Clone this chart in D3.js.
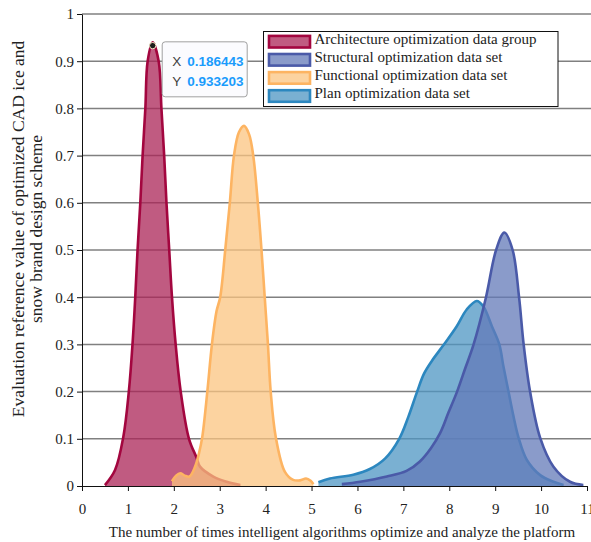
<!DOCTYPE html>
<html>
    <head>
        <meta charset="utf-8">
        <title>Optimization density chart</title>
        <script src="https://d3js.org/d3.v7.min.js"></script>
        <style>
            body{
                margin: 0;
                background: #ffffff;
            }
            .serif{
                font-family: "Liberation Serif", "Times New Roman", serif;
                fill: #222222;
            }
            .grid line{
                stroke: #808080;
                stroke-width: 1.5px;
            }
            .axis path, .axis line{
                stroke: #111111;
            }
            .axis text{
                font-family: "Liberation Serif", "Times New Roman", serif;
                font-size: 15px;
                fill: #222222;
            }
        </style>
    </head>
    <body>
        <svg width="591" height="542"></svg>
    </body>

    <script type="text/javascript">

        // values (x, density)
        var archX = [0.50, 0.72, 0.90, 1.02, 1.10, 1.16, 1.21, 1.27, 1.32, 1.38, 1.43, 1.54, 1.67, 1.73, 1.79, 1.84, 1.90, 1.96, 2.04, 2.15, 2.33, 2.50, 2.57, 2.86, 3.15, 3.45];
        var archY = [0.002, 0.034, 0.104, 0.20, 0.30, 0.40, 0.50, 0.60, 0.70, 0.80, 0.90, 0.94, 0.90, 0.80, 0.70, 0.60, 0.50, 0.40, 0.30, 0.20, 0.10, 0.059, 0.041, 0.020, 0.009, 0.002];

        var funcX = [1.96, 2.05, 2.14, 2.24, 2.34, 2.46, 2.55, 2.62, 2.73, 2.83, 2.93, 3.01, 3.12, 3.22, 3.31, 3.42, 3.53, 3.64, 3.73, 3.83, 3.91, 3.98, 4.05, 4.11, 4.22, 4.42, 4.60, 4.75, 4.88, 4.98, 5.04];
        var funcY = [0.010, 0.022, 0.027, 0.022, 0.020, 0.040, 0.070, 0.104, 0.20, 0.30, 0.37, 0.40, 0.50, 0.60, 0.70, 0.75, 0.763, 0.745, 0.70, 0.60, 0.50, 0.40, 0.30, 0.20, 0.104, 0.030, 0.013, 0.012, 0.016, 0.011, 0.004];

        var structX = [5.66, 6.06, 6.64, 7.07, 7.36, 7.60, 7.80, 7.98, 8.17, 8.35, 8.53, 8.80, 9.02, 9.20, 9.38, 9.52, 9.62, 9.76, 9.98, 10.27, 10.63, 10.92];
        var structY = [0.004, 0.009, 0.020, 0.032, 0.052, 0.080, 0.112, 0.155, 0.20, 0.25, 0.30, 0.40, 0.50, 0.537, 0.50, 0.40, 0.30, 0.20, 0.102, 0.041, 0.009, 0.002];

        var planX = [5.15, 5.40, 5.91, 6.27, 6.60, 6.91, 7.11, 7.30, 7.45, 7.62, 7.87, 8.16, 8.38, 8.60, 8.74, 8.93, 9.09, 9.18, 9.29, 9.40, 9.51, 9.69, 9.98, 10.27, 10.49];
        var planY = [0.008, 0.016, 0.024, 0.036, 0.058, 0.10, 0.147, 0.20, 0.238, 0.265, 0.298, 0.338, 0.374, 0.392, 0.381, 0.338, 0.30, 0.253, 0.20, 0.147, 0.102, 0.055, 0.023, 0.009, 0.002];

        var seriesNames = ["Architecture optimization data group", "Structural optimization data set", "Functional optimization data set", "Plan optimization data set"];
        var xTicks = [0, 1, 2, 3, 4, 5, 6, 7, 8, 9, 10, 11];
        var yTicks = [0, 0.1, 0.2, 0.3, 0.4, 0.5, 0.6, 0.7, 0.8, 0.9, 1];

        var tipX = 1.54, tipY = 0.933;
        var tipLabels = ["0.186443", "0.933203"];

        var series = [
            {name: seriesNames[0], xs: archX, ys: archY, fill: "#ab2457", stroke: "#a3063f", order: 0},
            {name: seriesNames[1], xs: structX, ys: structY, fill: "#637ab8", stroke: "#4a5aa8", order: 3},
            {name: seriesNames[2], xs: funcX, ys: funcY, fill: "#fbc480", stroke: "#fdb462", order: 1},
            {name: seriesNames[3], xs: planX, ys: planY, fill: "#4e96c3", stroke: "#2c87bf", order: 2}
        ];

        var svg = d3.select("svg");

        var x = d3.scaleLinear().domain([0, 11]).range([82, 587]);
        var y = d3.scaleLinear().domain([0, 1]).range([486, 14]);

        // horizontal grid
        svg.append("g")
            .attr("class", "grid")
            .selectAll("line")
            .data(yTicks.slice(1))
            .enter()
            .append("line")
            .attr("x1", x(0))
            .attr("x2", 591)
            .attr("y1", function (d) {return y(d);})
            .attr("y2", function (d) {return y(d);});

        var area = d3.area()
            .x(function (d) {return x(d[0]);})
            .y0(y(0))
            .y1(function (d) {return y(d[1]);})
            .curve(d3.curveCatmullRom.alpha(0.5));

        var line = d3.line()
            .x(function (d) {return x(d[0]);})
            .y(function (d) {return y(d[1]);})
            .curve(d3.curveCatmullRom.alpha(0.5));

        var drawn = series.slice().sort(function (a, b) {return a.order - b.order;});

        drawn.forEach(function (s) {
            var pts = s.xs.map(function (v, i) {return [v, s.ys[i]];});
            var g = svg.append("g");
            g.append("path")
                .attr("d", area(pts))
                .attr("fill", s.fill)
                .attr("fill-opacity", 0.75);
            g.append("path")
                .attr("d", line(pts))
                .attr("fill", "none")
                .attr("stroke", s.stroke)
                .attr("stroke-width", 2.6)
                .attr("stroke-linejoin", "round");
        });

        // axes
        svg.append("g")
            .attr("class", "axis")
            .attr("transform", "translate(0," + y(0) + ")")
            .call(d3.axisBottom(x).tickValues(xTicks).tickSize(5).tickPadding(12).tickSizeOuter(0)
                .tickFormat(function (d) {return String(d);}));

        svg.append("g")
            .attr("class", "axis")
            .attr("transform", "translate(" + x(0) + ",0)")
            .call(d3.axisLeft(y).tickValues(yTicks).tickSize(5).tickPadding(3).tickSizeOuter(0)
                .tickFormat(function (d) {return String(+d.toFixed(1));}));

        // axis titles
        svg.append("text")
            .attr("class", "serif")
            .attr("x", 342)
            .attr("y", 537)
            .attr("text-anchor", "middle")
            .style("font-size", "15px")
            .text("The number of times intelligent algorithms optimize and analyze the platform");

        var yTitle = ["Evaluation reference value of optimized CAD ice and", "snow brand design scheme"];
        yTitle.forEach(function (t, i) {
            svg.append("text")
                .attr("class", "serif")
                .attr("transform", "translate(" + (24 + i * 18) + ",229) rotate(-90)")
                .attr("text-anchor", "middle")
                .style("font-size", "17.5px")
                .text(t);
        });

        // legend
        var legend = svg.append("g").attr("transform", "translate(263.5,31.5)");
        legend.append("rect")
            .attr("width", 294.5)
            .attr("height", 75)
            .attr("fill", "#ffffff")
            .attr("stroke", "#111111")
            .attr("stroke-width", 1);

        var rows = legend.selectAll(".row")
            .data(series)
            .enter()
            .append("g")
            .attr("class", "row")
            .attr("transform", function (d, i) {return "translate(0," + (10.2 + i * 18.1) + ")";});

        rows.append("rect")
            .attr("x", 5.5)
            .attr("y", -5.8)
            .attr("width", 41)
            .attr("height", 11.6)
            .attr("fill", function (d) {return d.fill;})
            .attr("fill-opacity", 0.75)
            .attr("stroke", function (d) {return d.stroke;})
            .attr("stroke-width", 2.6);

        rows.append("text")
            .attr("class", "serif")
            .attr("x", 51)
            .attr("y", 1.8)
            .style("font-size", "15px")
            .text(function (d) {return d.name;});

        // data tip on the architecture peak
        var px = x(tipX), py = y(tipY);
        var tip = svg.append("g").attr("transform", "translate(" + (px + 9.5) + "," + (py - 3.8) + ")");
        tip.append("rect")
            .attr("width", 85)
            .attr("height", 55)
            .attr("rx", 3)
            .attr("fill", "#fbfbfe")
            .attr("stroke", "#a0a0a0")
            .attr("stroke-width", 1);

        ["X", "Y"].forEach(function (k, i) {
            tip.append("text")
                .attr("x", 10)
                .attr("y", 24.5 + i * 19.5)
                .style("font-family", "'Liberation Sans', Arial, sans-serif")
                .style("font-size", "13.5px")
                .attr("fill", "#404040")
                .text(k);
            tip.append("text")
                .attr("x", 25)
                .attr("y", 24.5 + i * 19.5)
                .style("font-family", "'Liberation Sans', Arial, sans-serif")
                .style("font-size", "13.5px")
                .style("font-weight", "bold")
                .attr("fill", "#1a9bfc")
                .text(tipLabels[i]);
        });

        svg.append("circle")
            .attr("cx", px)
            .attr("cy", py)
            .attr("r", 3.2)
            .attr("fill", "#1c1c1c")
            .attr("stroke", "#f3e3c3")
            .attr("stroke-width", 1);

    </script>
</html>
